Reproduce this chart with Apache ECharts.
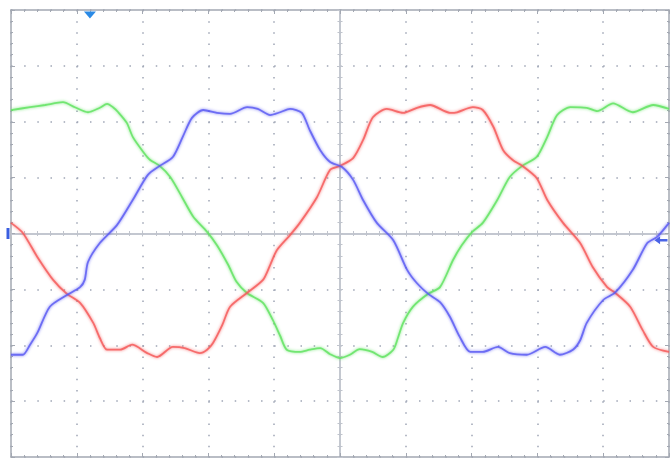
<!DOCTYPE html>
<html><head><meta charset="utf-8">
<script src="https://cdn.jsdelivr.net/npm/echarts@6/dist/echarts.min.js"></script>
<style>html,body{margin:0;padding:0;background:#fff}#c{width:670px;height:459px}</style>
</head><body><div id="c"></div>
<script>
const greenX = [-5.00,-4.71,-4.48,-4.21,-4.03,-3.83,-3.65,-3.54,-3.45,-3.37,-3.24,-3.15,-2.99,-2.89,-2.74,-2.58,-2.40,-2.23,-2.02,-1.87,-1.70,-1.57,-1.41,-1.17,-1.02,-0.91,-0.81,-0.61,-0.46,-0.30,-0.15,0.00,0.15,0.30,0.49,0.65,0.81,0.88,0.96,1.11,1.34,1.52,1.72,1.85,2.01,2.17,2.39,2.58,2.77,2.99,3.15,3.30,3.50,3.75,3.91,4.15,4.45,4.76,5.00];
const greenY = [2.21,2.26,2.30,2.35,2.26,2.17,2.25,2.32,2.26,2.17,1.98,1.73,1.46,1.32,1.21,1.01,0.65,0.30,0.03,-0.21,-0.56,-0.87,-1.07,-1.24,-1.55,-1.83,-2.08,-2.12,-2.08,-2.05,-2.16,-2.23,-2.17,-2.07,-2.12,-2.21,-2.08,-1.87,-1.60,-1.31,-1.08,-0.96,-0.47,-0.21,0.03,0.19,0.60,1.01,1.21,1.37,1.73,2.12,2.26,2.25,2.19,2.33,2.17,2.30,2.23];
const blueX = [-5.00,-4.82,-4.71,-4.60,-4.41,-4.15,-3.95,-3.88,-3.83,-3.65,-3.39,-3.15,-2.92,-2.74,-2.54,-2.39,-2.25,-2.08,-1.87,-1.67,-1.41,-1.25,-1.06,-0.91,-0.76,-0.58,-0.46,-0.30,-0.15,0.03,0.20,0.35,0.56,0.81,1.02,1.17,1.34,1.52,1.67,1.82,1.98,2.17,2.40,2.58,2.84,3.12,3.34,3.54,3.65,3.75,4.00,4.18,4.45,4.67,4.82,5.00];
const blueY = [-2.17,-2.17,-1.99,-1.78,-1.31,-1.10,-0.96,-0.83,-0.51,-0.17,0.15,0.60,1.05,1.21,1.37,1.73,2.07,2.21,2.16,2.14,2.26,2.23,2.12,2.17,2.23,2.16,1.85,1.49,1.28,1.19,0.96,0.60,0.19,-0.12,-0.65,-0.89,-1.08,-1.23,-1.49,-1.85,-2.12,-2.12,-2.03,-2.14,-2.17,-2.03,-2.17,-2.08,-1.91,-1.60,-1.19,-1.06,-0.65,-0.17,-0.06,0.19];
const redX = [-5.00,-4.82,-4.60,-4.36,-4.15,-3.95,-3.75,-3.65,-3.54,-3.34,-3.16,-2.93,-2.78,-2.54,-2.36,-2.13,-2.02,-1.93,-1.79,-1.67,-1.41,-1.17,-1.06,-0.96,-0.76,-0.61,-0.35,-0.15,0.00,0.20,0.35,0.50,0.71,0.96,1.17,1.37,1.67,1.78,2.02,2.17,2.33,2.48,2.63,2.77,2.99,3.15,3.39,3.65,3.84,4.06,4.18,4.41,4.60,4.76,5.00];
const redY = [0.19,0.01,-0.42,-0.83,-1.08,-1.24,-1.60,-1.87,-2.08,-2.08,-1.99,-2.14,-2.21,-2.03,-2.05,-2.14,-2.08,-1.96,-1.64,-1.31,-1.06,-0.83,-0.56,-0.30,-0.03,0.19,0.65,1.14,1.21,1.35,1.67,2.08,2.23,2.16,2.25,2.30,2.16,2.17,2.26,2.21,1.91,1.49,1.31,1.21,0.99,0.60,0.19,-0.17,-0.60,-0.96,-1.06,-1.31,-1.73,-2.03,-2.12];
// Screen markers (divisions)
const triggerPosition = -3.8;
const groundLevel = 0;
const triggerLevel = -0.12;
const xRange = [-5, 5];
const yRange = [-4, 4];

const pair = (xs, ys) => xs.map((x, i) => [x, ys[i]]);
const frameColor = '#a3a8b2';
const dotColor = '#9ea5b5';
const centerColor = '#c0c4cd';
const G = {left: 11, right: 1, top: 10, bottom: 2};

function frameX(pos, split) {
  return {type: 'value', gridIndex: 0, position: pos, min: xRange[0], max: xRange[1], interval: 1,
    axisLine: {show: true, onZero: false, lineStyle: {color: frameColor, width: 1.5}},
    axisTick: {show: true, inside: true, length: 4, lineStyle: {color: frameColor}},
    minorTick: {show: true, splitNumber: 5, length: 2, lineStyle: {color: frameColor}},
    axisLabel: {show: false},
    splitLine: {show: split, lineStyle: {color: dotColor, width: 1.5, type: [1.5, 9.675]}}};
}
function frameY(pos, split) {
  return {type: 'value', gridIndex: 0, position: pos, min: yRange[0], max: yRange[1], interval: 1,
    axisLine: {show: true, onZero: false, lineStyle: {color: frameColor, width: 1.5}},
    axisTick: {show: true, inside: true, length: 4, lineStyle: {color: frameColor}},
    minorTick: {show: true, splitNumber: 5, length: 2, lineStyle: {color: frameColor}},
    axisLabel: {show: false},
    splitLine: {show: split, lineStyle: {color: dotColor, width: 1.5, type: [1.5, 11.66]}}};
}
function centerX(g, inside) {
  return {type: 'value', gridIndex: g, position: 'bottom', min: xRange[0], max: xRange[1], interval: 1,
    axisLine: {show: true, onZero: true, lineStyle: {color: centerColor, width: 1.5}},
    axisTick: {show: true, inside: inside, length: 3, lineStyle: {color: centerColor}},
    minorTick: {show: true, splitNumber: 5, length: 2.5, lineStyle: {color: centerColor}},
    axisLabel: {show: false}, splitLine: {show: false}};
}
function centerY(g, inside) {
  return {type: 'value', gridIndex: g, position: 'left', min: yRange[0], max: yRange[1], interval: 1,
    axisLine: {show: true, onZero: true, lineStyle: {color: centerColor, width: 1.5}},
    axisTick: {show: true, inside: inside, length: 3, lineStyle: {color: centerColor}},
    minorTick: {show: true, splitNumber: 5, length: 2.5, lineStyle: {color: centerColor}},
    axisLabel: {show: false}, splitLine: {show: false}};
}
function wave(data, color, extra) {
  return Object.assign({type: 'line', xAxisIndex: 0, yAxisIndex: 0, data: data, symbol: 'none',
    smooth: 0.25, z: 5,
    lineStyle: {color: color, width: 1.8, opacity: 0.8, shadowBlur: 3, shadowColor: color}}, extra || {});
}

const chart = echarts.init(document.getElementById('c'), null, {renderer: 'canvas'});
chart.setOption({
  animation: false,
  backgroundColor: '#ffffff',
  grid: [Object.assign({show: false}, G), Object.assign({show: false}, G), Object.assign({show: false}, G)],
  xAxis: [frameX('bottom', true), frameX('top', false), centerX(1, false), centerX(2, true)],
  yAxis: [frameY('left', true), frameY('right', false), centerY(1, false), centerY(2, true)],
  series: [
    wave(pair(greenX, greenY), '#5ee25e'),
    wave(pair(redX, redY), '#f55656'),
    wave(pair(blueX, blueY), '#5858f2', {
      markPoint: {
        silent: true, label: {show: false},
        data: [
          {coord: [triggerPosition, yRange[1]], symbol: 'triangle', symbolRotate: 180,
           symbolSize: [12, 7], symbolOffset: [0, 5], itemStyle: {color: '#2a8ae6'}},
          {coord: [xRange[0], groundLevel], symbol: 'rect', symbolSize: [3, 11],
           symbolOffset: [-3, 0], itemStyle: {color: '#3a5ee0'}},
          {coord: [xRange[1], triggerLevel], symbol: 'path://M0,5 L6,0 L6,3.5 L14,3.5 L14,6.5 L6,6.5 L6,10 Z',
           symbolSize: [13, 8], symbolOffset: [-8, 0], itemStyle: {color: '#4a64e6'}}
        ]
      }
    })
  ]
});
</script></body></html>
